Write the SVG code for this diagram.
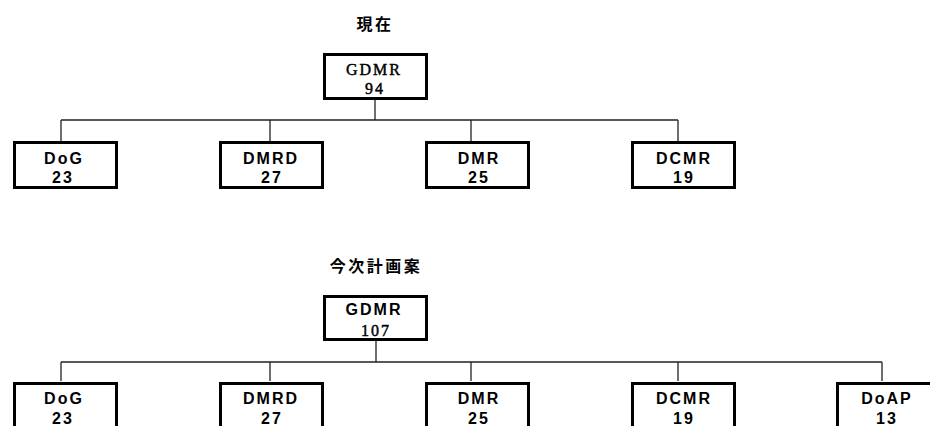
<svg xmlns="http://www.w3.org/2000/svg" width="930" height="426" viewBox="0 0 930 426">
<style>
.bg{fill:#fff}
.box{fill:#fff;stroke:#000;stroke-width:3}
.ln{stroke:#222;stroke-width:1.3;fill:none}
.ttl{font-family:"Noto Sans CJK JP","Noto Sans CJK SC",sans-serif;font-size:16px;font-weight:bold;fill:#000;text-anchor:middle;letter-spacing:2.5px}
.sr{font-family:"Liberation Serif",serif;font-size:16px;fill:#000;stroke:#000;stroke-width:0.45;text-anchor:middle;letter-spacing:2px}
.sb{font-family:"Liberation Sans",Arial,sans-serif;font-size:16px;font-weight:bold;fill:#000;text-anchor:middle;letter-spacing:2px}
</style>
<rect class="bg" x="0" y="0" width="930" height="426"/>
<text class="ttl" x="375" y="30">現在</text>
<text class="ttl" x="376" y="272">今次計画案</text>
<g id="connectors">
<path class="ln" d="M375,98V120M61,120H678M61,120V141M270,120V141M471,120V141M678,120V141"/>
<path class="ln" d="M376,340V362M61,362H882M61,362V381M270,362V381M471,362V381M678,362V381M882,362V381"/>
</g>
<g id="top-gdmr"><rect class="box" x="324.5" y="54.5" width="102" height="44"/><text class="sr" x="374" y="75">GDMR</text><text class="sr" x="375" y="94">94</text></g>
<g id="top-dog"><rect class="box" x="14.5" y="142.5" width="102" height="45"/><text class="sb" x="64" y="164">DoG</text><text class="sb" x="63" y="183">23</text></g>
<g id="top-dmrd"><rect class="box" x="220.5" y="142.5" width="102" height="45"/><text class="sb" x="271" y="164">DMRD</text><text class="sb" x="272" y="183">27</text></g>
<g id="top-dmr"><rect class="box" x="426.5" y="142.5" width="102" height="45"/><text class="sb" x="479" y="164">DMR</text><text class="sb" x="479" y="183">25</text></g>
<g id="top-dcmr"><rect class="box" x="632.5" y="142.5" width="102" height="45"/><text class="sb" x="684" y="164">DCMR</text><text class="sb" x="684" y="183">19</text></g>
<g id="bot-gdmr"><rect class="box" x="324.5" y="296.5" width="102" height="43"/><text class="sb" x="374" y="315">GDMR</text><text class="sr" x="376" y="336">107</text></g>
<g id="bot-dog"><rect class="box" x="14.5" y="383.5" width="102" height="45"/><text class="sb" x="64" y="404">DoG</text><text class="sb" x="63" y="424">23</text></g>
<g id="bot-dmrd"><rect class="box" x="220.5" y="383.5" width="102" height="45"/><text class="sb" x="271" y="404">DMRD</text><text class="sb" x="272" y="424">27</text></g>
<g id="bot-dmr"><rect class="box" x="426.5" y="383.5" width="102" height="45"/><text class="sb" x="479" y="404">DMR</text><text class="sb" x="479" y="424">25</text></g>
<g id="bot-dcmr"><rect class="box" x="632.5" y="383.5" width="102" height="45"/><text class="sb" x="684" y="404">DCMR</text><text class="sb" x="684" y="424">19</text></g>
<g id="bot-doap"><rect class="box" x="837.5" y="383.5" width="102" height="45"/><text class="sb" x="887" y="404">DoAP</text><text class="sb" x="887" y="424">13</text></g>
</svg>
